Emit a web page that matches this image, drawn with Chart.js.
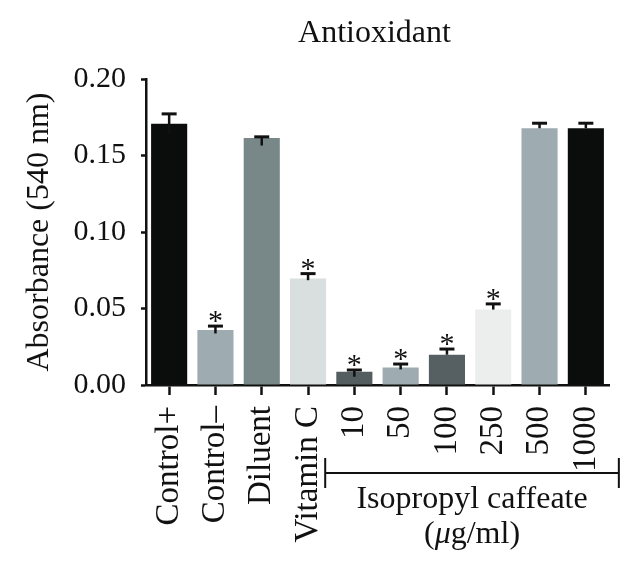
<!DOCTYPE html>
<html>
<head>
<meta charset="utf-8">
<script src="https://cdn.jsdelivr.net/npm/chart.js@4.4.1/dist/chart.umd.min.js"></script>
<style>
  html, body { margin: 0; padding: 0; background: #ffffff; }
  #wrap { width: 640px; height: 577px; }
</style>
</head>
<body>
<div id="wrap"><canvas id="c" width="640" height="577"></canvas></div>
<script>
// ---- data ----
const chartTitle = 'Antioxidant';
const yAxisTitle = 'Absorbance (540 nm)';
const categories = ['Control+', 'Control\u2013', 'Diluent', 'Vitamin C', '10', '50', '100', '250', '500', '1000'];
const absorbance = [0.1707, 0.0359, 0.1615, 0.0696, 0.0087, 0.0115, 0.0198, 0.0493, 0.1678, 0.1678];
const errUp      = [0.0065, 0.0026, 0.0007, 0.0032, 0.0011, 0.0022, 0.0037, 0.0037, 0.0033, 0.0033];
const errDown    = [0.0065, 0.0022, 0.0050, 0.0011, 0.0033, 0.0013, 0.0000, 0.0000, 0.0000, 0.0000];
const significant = [false, true, false, true, true, true, true, true, false, false];
const barColors = ['#0b0d0c', '#9eabb0', '#788788', '#d9dfdf', '#545e60', '#9eabb0', '#566062', '#eceeee', '#9eabb0', '#0b0d0c'];
const yTicks = [0, 0.05, 0.10, 0.15, 0.20];
const groupLabel = 'Isopropyl caffeate';
const groupUnitParts = ['(', '\u03bc', 'g/ml)'];
const groupFirstIndex = 4;

const SERIF = '"Liberation Serif", "Times New Roman", serif';
const INK = '#111111';

const overlay = {
  id: 'overlay',
  afterDatasetsDraw(chart) {
    const ctx = chart.ctx;
    const xs = chart.scales.x, ys = chart.scales.y;
    const meta = chart.getDatasetMeta(0);
    ctx.save();
    // error bars
    meta.data.forEach((bar, i) => {
      const v = absorbance[i];
      const yTop = ys.getPixelForValue(v + errUp[i]);
      const yBot = ys.getPixelForValue(v - errDown[i]);
      ctx.strokeStyle = INK;
      ctx.lineWidth = 2.5;
      ctx.beginPath();
      ctx.moveTo(bar.x, yTop);
      ctx.lineTo(bar.x, yBot);
      ctx.stroke();
      ctx.lineWidth = 3;
      ctx.beginPath();
      ctx.moveTo(bar.x - 7.5, yTop);
      ctx.lineTo(bar.x + 7.5, yTop);
      ctx.stroke();
      if (significant[i]) {
        ctx.fillStyle = INK;
        ctx.font = '30px ' + SERIF;
        ctx.textAlign = 'center';
        ctx.textBaseline = 'alphabetic';
        ctx.fillText('*', bar.x, yTop + 4);
      }
    });
    ctx.restore();
  },
  afterDraw(chart) {
    const ctx = chart.ctx;
    const xs = chart.scales.x;
    const area = chart.chartArea;
    ctx.save();
    // title
    ctx.fillStyle = INK;
    ctx.font = '32px ' + SERIF;
    ctx.textAlign = 'center';
    ctx.textBaseline = 'alphabetic';
    ctx.fillText(chartTitle, (area.left + area.right) / 2 - 3, 42);
    // group bracket
    const bx1 = xs.getPixelForValue(groupFirstIndex - 0.5) - 6;
    const bx2 = xs.getPixelForValue(categories.length - 1) + 33;
    const by = 473;
    ctx.strokeStyle = INK;
    ctx.lineWidth = 2;
    ctx.beginPath();
    ctx.moveTo(bx1, by); ctx.lineTo(bx2, by);
    ctx.moveTo(bx1, by - 15); ctx.lineTo(bx1, by + 15);
    ctx.moveTo(bx2, by - 15); ctx.lineTo(bx2, by + 15);
    ctx.stroke();
    const cx = (bx1 + bx2) / 2;
    ctx.font = '32px ' + SERIF;
    ctx.textAlign = 'center';
    ctx.fillText(groupLabel, cx, 508);
    // (μg/ml) with italic mu
    const fN = '32px ' + SERIF, fI = 'italic 32px ' + SERIF;
    ctx.font = fN; const w0 = ctx.measureText(groupUnitParts[0]).width;
    ctx.font = fI; const w1 = ctx.measureText(groupUnitParts[1]).width;
    ctx.font = fN; const w2 = ctx.measureText(groupUnitParts[2]).width;
    let x = cx - (w0 + w1 + w2) / 2;
    ctx.textAlign = 'left';
    ctx.font = fN; ctx.fillText(groupUnitParts[0], x, 543); x += w0;
    ctx.font = fI; ctx.fillText(groupUnitParts[1], x, 543); x += w1;
    ctx.font = fN; ctx.fillText(groupUnitParts[2], x, 543);
    ctx.restore();
  }
};

new Chart(document.getElementById('c'), {
  type: 'bar',
  data: {
    labels: categories,
    datasets: [{
      data: absorbance,
      backgroundColor: barColors,
      borderWidth: 0,
      barPercentage: 0.78,
      categoryPercentage: 1.0
    }]
  },
  options: {
    responsive: false,
    animation: false,
    devicePixelRatio: 1,
    layout: { padding: { top: 79, left: 0, right: 31, bottom: 0 } },
    plugins: {
      legend: { display: false },
      tooltip: { enabled: false },
      title: { display: false }
    },
    scales: {
      x: {
        afterFit(scale) { scale.height = 192; },
        grid: { display: true, drawOnChartArea: false, drawTicks: true, tickLength: 10, tickWidth: 2.5, tickColor: INK, offset: false },
        border: { display: true, color: INK, width: 2.5 },
        ticks: {
          color: INK,
          font: { family: SERIF, size: 33 },
          maxRotation: 90, minRotation: 90,
          padding: 11,
          autoSkip: false
        }
      },
      y: {
        min: 0, max: 0.2,
        afterFit(scale) { scale.width = 146; },
        afterBuildTicks(scale) { scale.ticks = yTicks.map(v => ({ value: v })); },
        grid: { display: true, drawOnChartArea: false, drawTicks: true, tickLength: 5, tickWidth: 2.5, tickColor: INK },
        border: { display: true, color: INK, width: 2.5 },
        title: {
          display: true,
          text: yAxisTitle,
          color: INK,
          font: { family: SERIF, size: 32 },
          padding: { top: 20, bottom: 0 }
        },
        ticks: {
          color: INK,
          font: { family: SERIF, size: 30 },
          padding: 15,
          callback: (v) => Number(v).toFixed(2)
        }
      }
    }
  },
  plugins: [overlay]
});
</script>
</body>
</html>
